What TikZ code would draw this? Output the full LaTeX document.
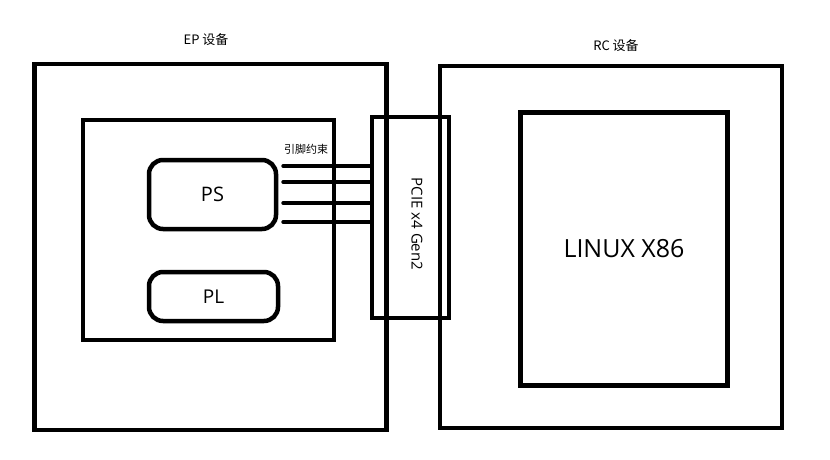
\documentclass[tikz,border=0pt]{standalone}
\usepackage{fontspec}
\setmainfont{Open Sans}
\newfontfamily\cjk{Noto Sans CJK SC}
\tikzset{
  box/.style={draw,line width=4.5pt,inner sep=0pt},
  soft/.style={box,rounded corners=14pt},
  pin/.style={line width=4pt,line cap=round},
}
\begin{document}
\begin{tikzpicture}[x=1pt,y=-1pt]
\useasboundingbox (0,0) rectangle (830,460);
\node[box,minimum width=352pt,minimum height=366pt] (ep) at (210.5,247) {};
\node[box,minimum width=342pt,minimum height=362pt] (rc) at (611,247) {};
\node[font=\cjk\fontsize{13}{15}\selectfont] (eplabel) at (206,40) {EP 设备};
\node[font=\cjk\fontsize{13}{15}\selectfont] (rclabel) at (616,46) {RC 设备};
\node[box,minimum width=251pt,minimum height=220pt] (soc) at (208.5,230) {};
\node[soft,minimum width=127pt,minimum height=69pt,font=\fontsize{20}{24}\selectfont] (ps) at (212.5,194.5) {PS};
\node[soft,minimum width=129pt,minimum height=49pt,font=\fontsize{19}{22}\selectfont] (pl) at (213.5,296.5) {PL};
\node[box,minimum width=77pt,minimum height=201pt] (pcie) at (410.5,217.5) {};
\node[rotate=-90,font=\fontsize{15}{17}\selectfont] (pcielabel) at (417,224) {PCIE x4 Gen2};
\node[box,minimum width=207pt,minimum height=273pt,font=\fontsize{25}{29}\selectfont] (linux) at (624,249) {LINUX X86};
\node[font=\cjk\fontsize{11}{13}\selectfont] (pinlabel) at (306,149) {引脚约束};
% pins from PS to the PCIE slot
\foreach \y in {166,182,203,222}
  \draw[pin] ([xshift=5pt]ps.east |- 0,\y) -- (pcie.west |- 0,\y);
\end{tikzpicture}
\end{document}
